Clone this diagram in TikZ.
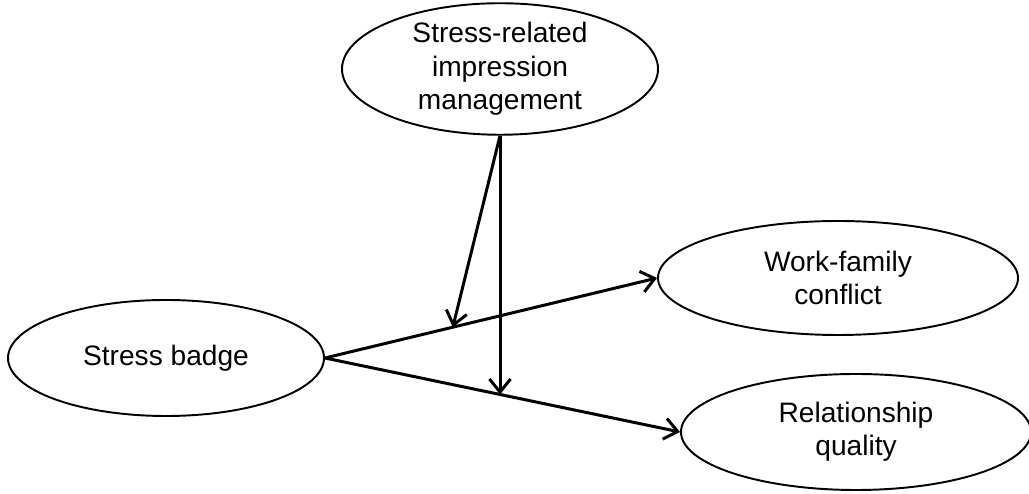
\documentclass[tikz,border=0pt]{standalone}
\usepackage{fontspec}
\setmainfont{Liberation Sans}
\usetikzlibrary{shapes.geometric, arrows.meta, calc}

\begin{document}
\begin{tikzpicture}[>={Straight Barb[length=7.5pt,width=12pt,line width=1.7pt]},line width=1.7pt]
			\tikzstyle{every node}=[font=\fontsize{16}{19}\selectfont]
			\tikzstyle{var}=[ellipse,draw,line width=1.1pt,align=center,inner sep=0pt]
			\useasboundingbox (0,0) rectangle (20.58,9.88);
			
			\node[var,minimum width=6.32cm,minimum height=2.44cm] (m_0) at (10.0,8.5) {Stress-related\\impression\\management};
			\node[var,minimum width=6.32cm,minimum height=2.32cm] (x_0) at (3.32,2.72) {Stress badge};
			\node[var,minimum width=7.2cm,minimum height=2.28cm] (y_1) at (16.76,4.32) {Work-family\\conflict};
			\node[var,minimum width=7.0cm,minimum height=2.32cm] (y_2) at (17.12,1.24) {Relationship\\quality};
			
			\coordinate (p_1) at ($(x_0.east)!0.385!(y_1.west)$);
			\coordinate (p_2) at ($(x_0.east)!0.494!(y_2.west)$);
			
			\draw[->] (x_0.east) -- (y_1.west);
			\draw[->] (x_0.east) -- (y_2.west);
			\draw[->] (m_0.south) -- (p_1);
			\draw[->] (m_0.south) -- (m_0.south |- p_2);
		\end{tikzpicture}
\end{document}
